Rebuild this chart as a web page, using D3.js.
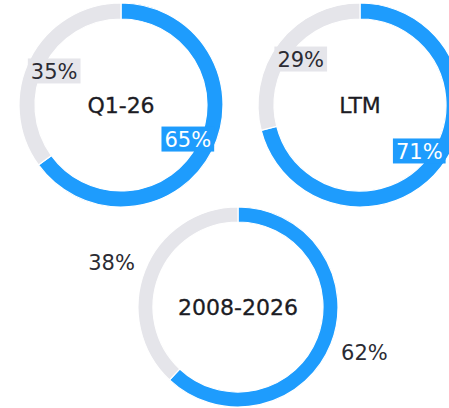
<!DOCTYPE html>
<html><head><meta charset="utf-8">
<script src="https://cdn.jsdelivr.net/npm/d3@7"></script>
<style>html,body{margin:0;padding:0;background:#fff;}svg{display:block;}</style>
</head><body>
<svg id="c" width="449" height="408"></svg>
<script>
const titles = ["Q1-26", "LTM", "2008-2026"];
const blueValues = [65, 71, 62];
const greyValues = [35, 29, 38];
const labelModes = ["inside", "inside", "outside"];

const layout = [
  {cx: 121, cy: 105, ro: 102, ri: 86},
  {cx: 360, cy: 105, ro: 102, ri: 86},
  {cx: 238, cy: 307, ro: 100, ri: 85}
];
const colors = ["#1e9cfd", "#e5e5ea"];
const svg = d3.select("#c");
const pie = d3.pie().sort(null).value(d => d);

titles.forEach((t, i) => {
  const L = layout[i];
  const g = svg.append("g").attr("transform", `translate(${L.cx},${L.cy})`);
  const arcs = pie([blueValues[i], greyValues[i]]);
  const arc = d3.arc().innerRadius(L.ri).outerRadius(L.ro);
  g.selectAll("path").data(arcs).join("path")
    .attr("d", arc).attr("fill", (d, j) => colors[j])
    .attr("stroke", "#fff").attr("stroke-width", 1.2);
  g.append("text").text(t).attr("text-anchor", "middle").attr("dy", "0.36em")
    .attr("font-family", "DejaVu Sans").attr("font-size", 22).attr("fill", "#1c1c24")
    .attr("stroke", "#1c1c24").attr("stroke-width", 0.3);
  arcs.forEach((d, j) => {
    const mid = (d.startAngle + d.endAngle) / 2;
    const inside = labelModes[i] === "inside";
    const r = inside ? 75 : 136;
    const x = r * Math.sin(mid), y = -r * Math.cos(mid) * (inside ? 1 : 0.9);
    const lg = g.append("g").attr("transform", `translate(${x},${y})`);
    const txt = lg.append("text").text(d.data + "%").attr("text-anchor", "middle").attr("dy", "0.36em")
      .attr("font-family", "DejaVu Sans").attr("font-size", 21)
      .attr("fill", inside && j === 0 ? "#fff" : "#2b2b33");
    if (inside) {
      const bb = txt.node().getBBox();
      lg.insert("rect", "text").attr("x", bb.x - 3).attr("y", -12.5)
        .attr("width", bb.width + 6).attr("height", 25).attr("fill", colors[j]);
    }
  });
});
</script>
</body></html>
